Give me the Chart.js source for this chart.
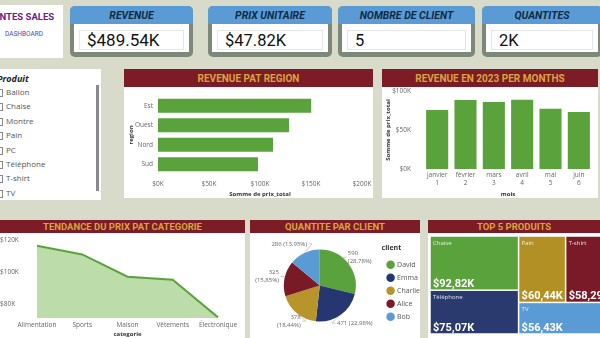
<!DOCTYPE html>
<html><head><meta charset="utf-8">
<script src="https://cdn.jsdelivr.net/npm/chart.js@4.4.0/dist/chart.umd.min.js"></script>
<style>
html,body{margin:0;padding:0;width:600px;height:338px;overflow:hidden;background:#d8dbc9;font-family:Roboto,"Open Sans",sans-serif;position:relative;}
.abs{position:absolute;}
.panel{position:absolute;background:#fff;overflow:hidden;}
.hdr{position:absolute;left:0;top:0;right:0;background:#7b1c26;color:#dca43c;font-weight:700;text-align:center;white-space:nowrap;}
.kpi{position:absolute;top:6px;height:51px;border-radius:5px;overflow:hidden;background:#7c8878;}
.kh{height:18px;background:#5b9bd5;color:#0f2a44;font:italic 700 10.5px Roboto;text-align:center;line-height:19px;white-space:nowrap;}
.kb{position:absolute;left:4px;right:4px;top:18px;bottom:5px;background:#fff;}
.kv{position:absolute;left:5px;right:5px;top:6px;bottom:2px;border:1px solid #e6e6e6;font:400 16.5px Roboto;line-height:19px;padding-left:7px;color:#111;white-space:nowrap;}
canvas{position:absolute;}
.item{position:absolute;left:6px;font:400 8px "Open Sans";color:#555;white-space:nowrap;}
.box{position:absolute;left:-5px;width:6px;height:6px;border:1px solid #888;background:#fff;}
</style>
</head><body>
<script>
// ---------- DATA ----------
const titleText = 'VENTES SALES';
const subtitleText = 'DASHBOARD';
const kpiLabels = ['REVENUE','PRIX UNITAIRE','NOMBRE DE CLIENT','QUANTITES'];
const kpiValues = ['$489.54K','$47.82K','5','2K'];
const slicerTitle = 'Produit';
const produits = ['Ballon','Chaise','Montre','Pain','PC','Téléphone','T-shirt','TV'];
const regions = ['Est','Ouest','Nord','Sud'];
const regionRevenue = [150200,128500,112800,98000];
const regionTicks = [0,50000,100000,150000,200000];
const monthNames = ['janvier','février','mars','avril','mai','juin'];
const monthNumbers = [1,2,3,4,5,6];
const monthRevenue = [75800,88600,86000,88800,77300,73000];
const monthTicks = [0,50000,100000];
const categories = ['Alimentation','Sports','Maison','Vêtements','Électronique'];
const categoryPrice = [116400,111000,97100,95200,71700];
const categoryTicks = [80000,100000,120000];
const clients = ['David','Emma','Charlie','Alice','Bob'];
const clientQty = [590,471,378,325,286];
const topProducts = ['Chaise','Téléphone','Pain','T-shirt','TV'];
const topRevenue = [92820,75070,60440,58290,56430];
</script>

<div class="abs" style="left:0;top:5px;width:63px;height:53px;background:#fff;overflow:hidden">
  <div id="ttl" style="position:absolute;left:-12px;top:7px;font:700 9.5px Roboto;line-height:9px;color:#6a1b8c;white-space:nowrap"></div>
  <div id="sub" style="position:absolute;left:5px;top:26px;font:400 6.5px Roboto;line-height:7px;color:#4b4ba6;white-space:nowrap"></div>
</div>
<div id="kpis"></div>

<div class="panel" id="slicer" style="left:0;top:69px;width:101px;height:131px;">
  <div style="position:absolute;left:-3px;top:3px;font:italic 700 9px 'Open Sans';color:#222" id="slt"></div>
  <div style="position:absolute;left:96px;top:16px;width:3px;height:106px;background:#8a8a8a"></div>
</div>

<div class="panel" style="left:124px;top:69px;width:249px;height:129px;"><div class="hdr" style="height:18px;line-height:19px;font-size:10px">REVENUE PAT REGION</div></div>
<div class="panel" style="left:382px;top:69px;width:216px;height:129px;"><div class="hdr" style="height:18px;line-height:19px;font-size:10px">REVENUE EN 2023 PER MONTHS</div></div>
<div class="panel" style="left:0;top:220px;width:245px;height:130px;"><div class="hdr" style="height:13px;line-height:14px;font-size:9.5px">TENDANCE DU PRIX PAT CATEGORIE</div></div>
<div class="panel" style="left:250px;top:220px;width:170px;height:130px;"><div class="hdr" style="height:13px;line-height:14px;font-size:9.5px">QUANTITE PAR CLIENT</div></div>
<div class="panel" style="left:428px;top:220px;width:190px;height:130px;"><div class="hdr" style="height:13px;line-height:14px;font-size:9.5px;width:172px">TOP 5 PRODUITS</div></div>

<canvas id="cRegion" width="249" height="111" style="left:124px;top:87px"></canvas>
<canvas id="cMonth" width="216" height="111" style="left:382px;top:87px"></canvas>
<canvas id="cCat" width="245" height="105" style="left:0;top:233px"></canvas>
<canvas id="cPie" width="180" height="105" style="left:250px;top:233px"></canvas>
<canvas id="cTree" width="190" height="105" style="left:428px;top:233px"></canvas>

<script>
document.getElementById('ttl').textContent = titleText;
document.getElementById('sub').textContent = subtitleText;
const kpiLeft=[70,208,338,482], kpiW=[123,124,137,120];
const kp=document.getElementById('kpis');
kpiLabels.forEach((l,i)=>{
  const d=document.createElement('div'); d.className='kpi'; d.style.left=kpiLeft[i]+'px'; d.style.width=kpiW[i]+'px';
  const h=document.createElement('div'); h.className='kh'; h.textContent=l; d.appendChild(h);
  const b=document.createElement('div'); b.className='kb';
  const v=document.createElement('div'); v.className='kv'; v.textContent=kpiValues[i];
  if(i===0){v.style.fontSize='17px';}
  b.appendChild(v); d.appendChild(b); kp.appendChild(d);
});
const sl=document.getElementById('slicer');
document.getElementById('slt').textContent=slicerTitle;
produits.forEach((p,i)=>{
  const t=document.createElement('div'); t.className='item'; t.style.top=(17+i*14.4)+'px'; t.textContent=p; sl.appendChild(t);
  const bx=document.createElement('div'); bx.className='box'; bx.style.top=(20+i*14.4)+'px'; sl.appendChild(bx);
});

Chart.defaults.font.family="'Open Sans', sans-serif";
Chart.defaults.animation=false;
Chart.defaults.responsive=false;
Chart.defaults.plugins.tooltip.enabled=false;
const fmtK=v=>'$'+Math.round(v/1000)+'K';
const TICK='#666', TITLE='#333', GREEN='#5aa33c';

new Chart(document.getElementById('cRegion'),{
  type:'bar',
  data:{labels:regions,datasets:[{data:regionRevenue,backgroundColor:GREEN,barPercentage:0.73,categoryPercentage:1}]},
  options:{indexAxis:'y',
    plugins:{legend:{display:false}},
    layout:{padding:{top:9,right:11,left:0,bottom:0}},
    scales:{
      x:{min:0,max:200000,afterBuildTicks:s=>{s.ticks=regionTicks.map(v=>({value:v}));},
        grid:{display:false,drawTicks:false},border:{display:false},
        ticks:{callback:fmtK,font:{size:6.5},color:TICK,padding:6,maxRotation:0},
        title:{display:true,text:'Somme de prix_total',font:{size:6,weight:'bold'},color:TITLE,padding:{top:2,bottom:0}},
        afterFit:s=>{s.height=24;s.paddingLeft=0;s.paddingRight=0;}},
      y:{grid:{display:false,drawTicks:false},border:{display:false},
        ticks:{font:{size:6.5},color:TICK,padding:5},
        title:{display:true,text:'region',font:{size:6,weight:'bold'},color:TITLE,padding:{top:4,bottom:0}},
        afterFit:s=>{s.width=34;s.paddingTop=0;s.paddingBottom=0;}}
    }}
});

new Chart(document.getElementById('cMonth'),{
  type:'bar',
  data:{labels:monthNames.map((m,i)=>[m,String(monthNumbers[i])]),datasets:[{data:monthRevenue,backgroundColor:GREEN,barPercentage:0.78,categoryPercentage:1}]},
  options:{
    plugins:{legend:{display:false}},
    layout:{padding:{top:4,right:5,left:0,bottom:0}},
    scales:{
      y:{min:0,max:100000,afterBuildTicks:s=>{s.ticks=monthTicks.map(v=>({value:v}));},
        grid:{display:false,drawTicks:false},border:{display:false},
        ticks:{callback:fmtK,font:{size:6.5},color:TICK,padding:12},
        title:{display:true,text:'Somme de prix_total',font:{size:6,weight:'bold'},color:TITLE,padding:{top:3,bottom:0}},
        afterFit:s=>{s.width=41;s.paddingTop=0;s.paddingBottom=0;}},
      x:{grid:{display:false,drawTicks:false},border:{display:false},
        ticks:{font:{size:6.5},color:TICK,padding:2,maxRotation:0},
        title:{display:true,text:'mois',font:{size:6,weight:'bold'},color:TITLE,padding:{top:1,bottom:0}},
        afterFit:s=>{s.height=29;s.paddingLeft=0;s.paddingRight=0;}}
    }}
});

new Chart(document.getElementById('cCat'),{
  type:'line',
  data:{labels:categories,datasets:[{data:categoryPrice,borderColor:'#5aa33c',borderWidth:2,backgroundColor:'#bcdcaa',fill:'start',pointRadius:0,tension:0}]},
  options:{
    plugins:{legend:{display:false}},
    layout:{padding:{top:7,right:27,left:0,bottom:0}},
    scales:{
      y:{min:71300,max:120000,afterBuildTicks:s=>{s.ticks=categoryTicks.map(v=>({value:v}));},
        grid:{display:false,drawTicks:false},border:{display:false},
        ticks:{callback:fmtK,font:{size:6.5},color:TICK,padding:0,crossAlign:'far'},
        afterFit:s=>{s.width=37;s.paddingTop=0;s.paddingBottom=0;}},
      x:{grid:{display:false,drawTicks:false},border:{display:false},
        ticks:{font:{size:6.5},color:TICK,padding:3,maxRotation:0,autoSkip:false},
        title:{display:true,text:'categorie',font:{size:6,weight:'bold'},color:TITLE,padding:{top:1,bottom:0}},
        afterFit:s=>{s.height=20;s.paddingLeft=0;s.paddingRight=0;}}
    }}
});

const pieLabels={id:'pieLabels',afterDatasetsDraw(chart){
  const ctx=chart.ctx, meta=chart.getDatasetMeta(0), data=chart.data.datasets[0].data;
  const total=data.reduce((a,b)=>a+b,0);
  ctx.save(); ctx.font="6px 'Open Sans'"; ctx.fillStyle='#666'; ctx.strokeStyle='#aaa'; ctx.lineWidth=0.6; ctx.textBaseline='middle';
  meta.data.forEach((arc,i)=>{
    const p=arc.getProps(['x','y','startAngle','endAngle','outerRadius'],true);
    const a=(p.startAngle+p.endAngle)/2, c=Math.cos(a), s=Math.sin(a), r=p.outerRadius;
    const dir=c>=0?1:-1;
    const dy=s*(r+10);
    const xe=Math.sqrt(Math.max(r*r-dy*dy,0));
    const dx=Math.max(xe+6,Math.abs(c)*30);
    const tx=p.x+dir*dx, ty=p.y+dy;
    ctx.beginPath(); ctx.moveTo(p.x+c*r,p.y+s*r); ctx.lineTo(tx-dir*5,ty); ctx.lineTo(tx-dir*1.5,ty); ctx.stroke();
    const pct='('+(data[i]/total*100).toFixed(2).replace('.',',')+'%)';
    ctx.textAlign=dir>0?'left':'right';
    if(Math.abs(c)>0.6){ctx.fillText(String(data[i]),tx,ty-4);ctx.fillText(pct,tx,ty+4);}
    else ctx.fillText(data[i]+' '+pct,tx,ty);
  });
  ctx.restore();
}};
new Chart(document.getElementById('cPie'),{
  type:'pie',
  data:{labels:clients,datasets:[{data:clientQty,backgroundColor:['#5aa33c','#263670','#b8952a','#7a1a27','#5b9bd5'],borderWidth:0,radius:36}]},
  options:{
    layout:{padding:{left:8,top:0,bottom:0,right:0}},
    plugins:{legend:{position:'right',align:'center',
      title:{display:true,text:'client',font:{size:7,weight:'bold'},color:'#333',position:'start',padding:{top:0,bottom:2}},
      labels:{usePointStyle:true,pointStyle:'circle',boxWidth:6,boxHeight:6,font:{size:7},color:'#555',padding:6}}}
  },
  plugins:[pieLabels]
});

function squarify(values,x,y,w,h){
  const total=values.reduce((a,b)=>a+b,0), k=w*h/total, areas=values.map(v=>v*k), rects=[];
  let i=0;
  while(i<areas.length){
    const sh=Math.min(w,h);
    const worst=r=>{const s=r.reduce((a,b)=>a+b,0),mx=Math.max(...r),mn=Math.min(...r);return Math.max(sh*sh*mx/(s*s),s*s/(sh*sh*mn));};
    let row=[areas[i]],j=i+1;
    while(j<areas.length&&worst([...row,areas[j]])<=worst(row)*1.05){row.push(areas[j]);j++;}
    const s=row.reduce((a,b)=>a+b,0);
    if(w>=h){const cw=s/h;let cy=y;row.forEach(a=>{const rh=a/cw;rects.push({x,y:cy,w:cw,h:rh});cy+=rh;});x+=cw;w-=cw;}
    else{const rh=s/w;let cx=x;row.forEach(a=>{const rw=a/rh;rects.push({x:cx,y,w:rw,h:rh});cx+=rw;});y+=rh;h-=rh;}
    i=j;
  }
  return rects;
}
const treeColors=['#5aa33c','#2b3a6e','#b39024','#7a1a28','#5b9bd5'];
const treemap={id:'treemap',afterDatasetsDraw(chart){
  const ctx=chart.ctx, xs=chart.scales.x, ys=chart.scales.y, A=chart.chartArea;
  const W=A.right-A.left, H=A.bottom-A.top;
  const rects=squarify(topRevenue,0,0,W,H);
  ctx.save();
  rects.forEach((r,i)=>{
    const l=xs.getPixelForValue(r.x/W), rt=xs.getPixelForValue((r.x+r.w)/W);
    const t=ys.getPixelForValue(r.y/H), b=ys.getPixelForValue((r.y+r.h)/H);
    ctx.fillStyle=treeColors[i];
    ctx.fillRect(l+0.75,t+0.75,rt-l-1.5,b-t-1.5);
    ctx.fillStyle='rgba(255,255,255,0.85)'; ctx.font="6px 'Open Sans'"; ctx.textAlign='left'; ctx.textBaseline='top';
    ctx.fillText(topProducts[i],l+3,t+4);
    ctx.fillStyle='#fff'; ctx.font="700 11px Roboto"; ctx.textBaseline='alphabetic';
    ctx.fillText('$'+(topRevenue[i]/1000).toFixed(2).replace('.',',')+'K',l+3,b-3);
  });
  ctx.restore();
}};
new Chart(document.getElementById('cTree'),{
  type:'scatter',
  data:{datasets:[{data:[]}]},
  options:{
    plugins:{legend:{display:false}},
    layout:{padding:{left:2,top:3,right:7,bottom:4}},
    scales:{x:{display:false,min:0,max:1},y:{display:false,min:0,max:1,reverse:true}}
  },
  plugins:[treemap]
});
</script>
</body></html>
